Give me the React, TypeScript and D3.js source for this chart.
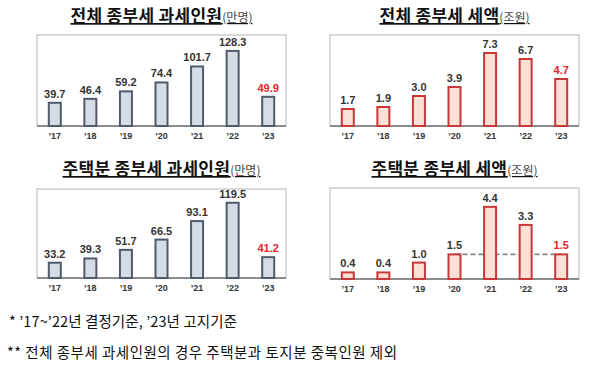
import React from 'react';
import * as d3 from 'd3';

const years = ['’17', '’18', '’19', '’20', '’21', '’22', '’23'];
const totalPeople = [39.7, 46.4, 59.2, 74.4, 101.7, 128.3, 49.9];
const totalAmount = [1.7, 1.9, 3.0, 3.9, 7.3, 6.7, 4.7];
const housePeople = [33.2, 39.3, 51.7, 66.5, 93.1, 119.5, 41.2];
const houseAmount = [0.4, 0.4, 1.0, 1.5, 4.4, 3.3, 1.5];

const notes = [
  '* ’17~’22년 결정기준, ’23년 고지기준',
  '** 전체 종부세 과세인원의 경우 주택분과 토지분 중복인원 제외',
];
const noteWidths = [228, 390];

const KR = '"Noto Sans CJK KR", "Noto Sans", sans-serif';
const NUM = '"Liberation Sans", Arial, sans-serif';

interface PanelProps {
  title: string;
  unit: string;
  values: number[];
  domain: [number, number];
  box: { x0: number; x1: number; y0: number; y1: number };
  titleY: number;
  kind: 'blue' | 'red';
  dashFrom?: number;
}

const Panel: React.FC<PanelProps> = ({ title, unit, values, domain, box, titleY, kind, dashFrom }) => {
  const x = d3.scalePoint<string>().domain(years).range([box.x0, box.x1]).padding(0.5);
  const y = d3.scaleLinear().domain(domain).range([box.y1, box.y0]);
  const bw = 12;
  const fill = kind === 'blue' ? '#d6dce6' : '#fbe1d5';
  const stroke = kind === 'blue' ? '#4f5a6b' : '#c8373a';
  const cx = (box.x0 + box.x1) / 2;
  const last = values.length - 1;

  return (
    <g>
      <text
        x={cx}
        y={titleY}
        textAnchor="middle"
        fontFamily={KR}
        fill="#111"
        style={{ textDecoration: 'underline' }}
      >
        <tspan fontSize={17} fontWeight={700} letterSpacing={0.3}>{title}</tspan>
        <tspan fontSize={12} fill="#444">{unit}</tspan>
      </text>
      <rect x={box.x0} y={box.y0} width={box.x1 - box.x0} height={box.y1 - box.y0} fill="#fff" stroke="#b5b5b5" strokeWidth={1} />
      <line x1={box.x0} x2={box.x1} y1={box.y1} y2={box.y1} stroke="#8c8c8c" strokeWidth={2} />
      {dashFrom !== undefined && (
        <line
          x1={x(years[dashFrom])!}
          x2={x(years[last])!}
          y1={y(values[dashFrom])}
          y2={y(values[last])}
          stroke="#888"
          strokeWidth={1.6}
          strokeDasharray="5,3"
        />
      )}
      {values.map((v, i) => (
        <g key={i}>
          <rect
            x={x(years[i])! - bw / 2}
            y={y(v)}
            width={bw}
            height={box.y1 - y(v)}
            fill={fill}
            stroke={stroke}
            strokeWidth={2}
          />
          <text
            x={x(years[i])!}
            y={y(v) - 5}
            textAnchor="middle"
            fontFamily={NUM}
            fontWeight={700}
            fontSize={11}
            fill={i === last ? '#e8232a' : '#333'}
          >
            {v.toFixed(1)}
          </text>
          <text x={x(years[i])!} y={box.y1 + 13} textAnchor="middle" fontFamily={NUM} fontWeight={700} fontSize={9} fill="#333">
            {years[i]}
          </text>
        </g>
      ))}
    </g>
  );
};

export default function App() {
  return (
    <svg width={609} height={371} style={{ position: 'absolute', left: 0, top: 0, background: '#fff' }}>
      <Panel title="전체 종부세 과세인원" unit="(만명)" values={totalPeople} domain={[0, 155.5]}
        box={{ x0: 37, x1: 286, y0: 35, y1: 126 }} titleY={22} kind="blue" />
      <Panel title="전체 종부세 세액" unit="(조원)" values={totalAmount} domain={[0, 9.1]}
        box={{ x0: 330, x1: 579, y0: 35, y1: 126 }} titleY={22} kind="red" />
      <Panel title="주택분 종부세 과세인원" unit="(만명)" values={housePeople} domain={[11.2, 139.3]}
        box={{ x0: 37, x1: 286, y0: 189, y1: 278 }} titleY={175} kind="blue" />
      <Panel title="주택분 종부세 세액" unit="(조원)" values={houseAmount} domain={[0, 5.55]}
        box={{ x0: 330, x1: 579, y0: 188, y1: 279 }} titleY={175} kind="red" dashFrom={3} />
      {notes.map((n, i) => (
        <text
          key={i}
          x={i === 0 ? 9 : 7}
          y={327 + i * 31}
          fontFamily={KR}
          fontSize={14.5}
          fill="#111"
          textLength={noteWidths[i]}
          lengthAdjust="spacing"
        >
          {n}
        </text>
      ))}
    </svg>
  );
}
